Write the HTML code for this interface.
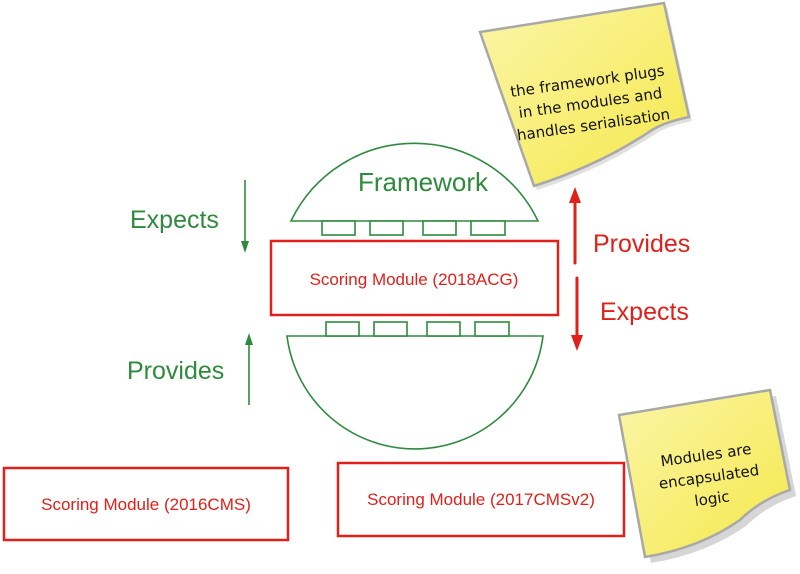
<!DOCTYPE html>
<html><head><style>body{margin:0;background:#fff}svg{display:block}</style></head><body>
<svg width="800" height="574" viewBox="0 0 800 574" xmlns="http://www.w3.org/2000/svg" font-family="Liberation Sans, Helvetica, sans-serif">
<defs>
<linearGradient id="y" x1="0" y1="0" x2="1" y2="1"><stop offset="0" stop-color="#fbf5a8"/><stop offset="1" stop-color="#f5e84a"/></linearGradient>
</defs>
<path d="M480,32 L664,3 L689,117 Q665,122 652,130 Q600,165 534,186 Z" fill="#ccc" transform="translate(3,4)" opacity="0.6"/>
<path d="M480,32 L664,3 L689,117 Q665,122 652,130 Q600,165 534,186 Z" fill="url(#y)" stroke="#a8a8a8" stroke-width="2.5"/>
<g font-family="DejaVu Sans, sans-serif" font-size="15" fill="#111" text-anchor="middle" transform="rotate(-8 590 100)">
<text x="590" y="86">the framework plugs</text>
<text x="590" y="108">in the modules and</text>
<text x="590" y="130">handles serialisation</text>
</g>
<path d="M619,415 L770,390 L790,490 Q760,500 740,520 Q700,548 645,557 Z" fill="#bbb" transform="translate(6,6)" opacity="0.6"/>
<path d="M619,415 L770,390 L790,490 Q760,500 740,520 Q700,548 645,557 Z" fill="url(#y)" stroke="#a8a8a8" stroke-width="2.5"/>
<g font-family="DejaVu Sans, sans-serif" font-size="15" fill="#111" text-anchor="middle" transform="rotate(-8 708 470)">
<text x="708" y="460">Modules are</text>
<text x="708" y="482">encapsulated</text>
<text x="708" y="504">logic</text>
</g>
<path d="M291,221 A137,137 0 0 1 538,221 Z" fill="#fff" stroke="#2e8b3e" stroke-width="1.6"/>
<path d="M287,336 A129,129 0 0 0 543,336 Z" fill="#fff" stroke="#2e8b3e" stroke-width="1.6"/>
<g fill="#fff" stroke="#2e8b3e" stroke-width="1.6">
<rect x="322" y="221" width="33" height="14"/><rect x="370" y="221" width="33" height="14"/><rect x="423" y="221" width="33" height="14"/><rect x="471" y="221" width="34" height="14"/>
<rect x="326" y="322" width="33" height="14"/><rect x="374" y="322" width="33" height="14"/><rect x="427" y="322" width="33" height="14"/><rect x="475" y="322" width="34" height="14"/>
</g>
<text x="423" y="191" font-size="26" fill="#2e8b3e" text-anchor="middle">Framework</text>
<rect x="271" y="241" width="287" height="74" fill="#fff" stroke="#e0201a" stroke-width="2.5"/>
<text x="414" y="285" font-size="17" fill="#e0201a" text-anchor="middle">Scoring Module (2018ACG)</text>
<rect x="4" y="468" width="284" height="72" fill="#fff" stroke="#e0201a" stroke-width="2.5"/>
<text x="146" y="510" font-size="17" fill="#e0201a" text-anchor="middle">Scoring Module (2016CMS)</text>
<rect x="338" y="463" width="286" height="73" fill="#fff" stroke="#e0201a" stroke-width="2.5"/>
<text x="481" y="505" font-size="17" fill="#e0201a" text-anchor="middle">Scoring Module (2017CMSv2)</text>
<line x1="245" y1="180" x2="245" y2="244" stroke="#2e8b3e" stroke-width="1.6"/>
<path d="M241,241 L249,241 L245,253 Z" fill="#2e8b3e"/>
<line x1="249" y1="343" x2="249" y2="405" stroke="#2e8b3e" stroke-width="1.6"/>
<path d="M245,345 L253,345 L249,333 Z" fill="#2e8b3e"/>
<text x="130" y="228" font-size="25" fill="#2e8b3e">Expects</text>
<text x="127" y="379" font-size="25" fill="#2e8b3e">Provides</text>
<line x1="575" y1="200" x2="575" y2="263" stroke="#e0201a" stroke-width="3" stroke-linecap="round"/>
<path d="M569,203 L581,203 L575,187 Z" fill="#e0201a"/>
<line x1="577" y1="278" x2="577" y2="338" stroke="#e0201a" stroke-width="3" stroke-linecap="round"/>
<path d="M571,335 L583,335 L577,351 Z" fill="#e0201a"/>
<text x="593" y="252" font-size="25" fill="#e0201a">Provides</text>
<text x="600" y="320" font-size="25" fill="#e0201a">Expects</text>
</svg>
</body></html>
